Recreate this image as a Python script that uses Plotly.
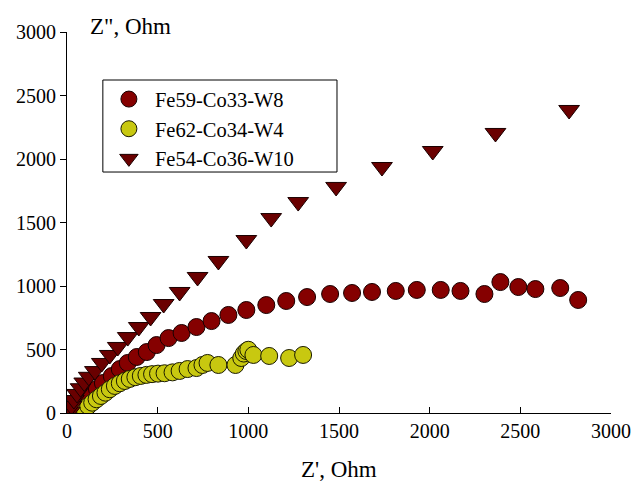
import plotly.graph_objects as go

# Fe59-Co33-W8 (dark red circles)
red_x = [20, 40, 60, 88, 121, 165, 198, 247, 291, 335, 385, 440, 494, 560, 632, 714, 797, 890,
         989, 1099, 1209, 1324, 1451, 1572, 1682, 1813, 1929, 2061, 2170, 2302, 2390, 2489, 2583,
         2720, 2819]
red_y = [5, 25, 47, 87, 134, 189, 236, 291, 346, 394, 441, 480, 535, 590, 630, 677, 724, 772,
         811, 850, 882, 913, 937, 945, 953, 961, 969, 969, 961, 937, 1031, 992, 976,
         984, 890]

# Fe62-Co34-W4 (yellow circles)
yel_x = [45, 71, 95, 117, 139, 163, 187, 212, 236, 264, 291, 319, 346, 377, 407, 438, 469, 502,
         538, 582, 621, 665, 714, 747, 775, 835, 929, 961, 975, 989, 1000, 1028, 1115, 1225, 1302]
yel_y = [2, 15, 35, 55, 81, 108, 134, 160, 187, 213, 234, 252, 268, 282, 292, 300, 306, 310,
         313, 320, 331, 346, 354, 378, 394, 378, 378, 433, 468, 488, 498, 457, 449, 433, 457]

# Fe54-Co36-W10 (maroon down-triangles)
tri_x = [15, 25, 38, 55, 75, 95, 120, 154, 192, 236, 280, 335, 396, 461, 533, 621, 720, 835,
         989, 1126, 1275, 1484, 1737, 2017, 2363, 2769]
tri_y = [10, 55, 102, 150, 195, 240, 285, 330, 394, 457, 520, 598, 677, 756, 858, 953, 1071, 1197,
         1362, 1535, 1661, 1780, 1937, 2063, 2205, 2386]

ticks = [0, 500, 1000, 1500, 2000, 2500, 3000]

FONT = "Liberation Serif, Times New Roman, serif"

fig = go.Figure()
fig.add_trace(go.Scatter(x=red_x, y=red_y, mode="markers", name="Fe59-Co33-W8",
                         marker=dict(symbol="circle", size=17, color="#850000",
                                     line=dict(color="#1a0000", width=1))))
fig.add_trace(go.Scatter(x=yel_x, y=yel_y, mode="markers", name="Fe62-Co34-W4",
                         marker=dict(symbol="circle", size=17, color="#c8c810",
                                     line=dict(color="#1a1a00", width=1))))
fig.add_trace(go.Scatter(x=tri_x, y=tri_y, mode="markers", name="Fe54-Co36-W10",
                         marker=dict(symbol="triangle-down", size=18, color="#6a0000",
                                     line=dict(color="#1a0000", width=1))))

fig.update_layout(
    width=643, height=486,
    margin=dict(l=67, r=30, t=32, b=73),
    paper_bgcolor="white", plot_bgcolor="white",
    font=dict(family=FONT, size=20, color="black"),
    showlegend=True,
    legend=dict(x=0.066, y=0.876, xanchor="left", yanchor="top",
                borderwidth=0, bgcolor="rgba(0,0,0,0)",
                font=dict(family=FONT, size=20.5, color="black"),
                itemwidth=42, tracegroupgap=0),
    shapes=[dict(type="rect", xref="paper", yref="paper", x0=0.0659, x1=0.4963,
                 y0=0.6325, y1=0.874, line=dict(color="black", width=1),
                 fillcolor="white", layer="below")],
    xaxis=dict(range=[0, 3000], tickvals=ticks, ticks="inside", ticklen=6, tickcolor="black",
               showline=True, linecolor="black", linewidth=1, showgrid=False, zeroline=False,
               tickfont=dict(family=FONT, size=20)),
    yaxis=dict(range=[0, 3000], tickvals=ticks, ticks="outside", ticklen=6, tickcolor="black",
               showline=True, linecolor="black", linewidth=1, showgrid=False, zeroline=False,
               tickfont=dict(family=FONT, size=20)),
    annotations=[
        dict(text="Z\", Ohm", xref="paper", yref="paper", x=0.038, y=1.0, xanchor="left",
             yanchor="bottom", showarrow=False, font=dict(family=FONT, size=23), yshift=-9),
        dict(text="Z', Ohm", xref="paper", yref="paper", x=0.5, y=0, xanchor="center",
             yanchor="top", showarrow=False, font=dict(family=FONT, size=23), yshift=-42),
    ],
)

fig.write_html("out.html")
